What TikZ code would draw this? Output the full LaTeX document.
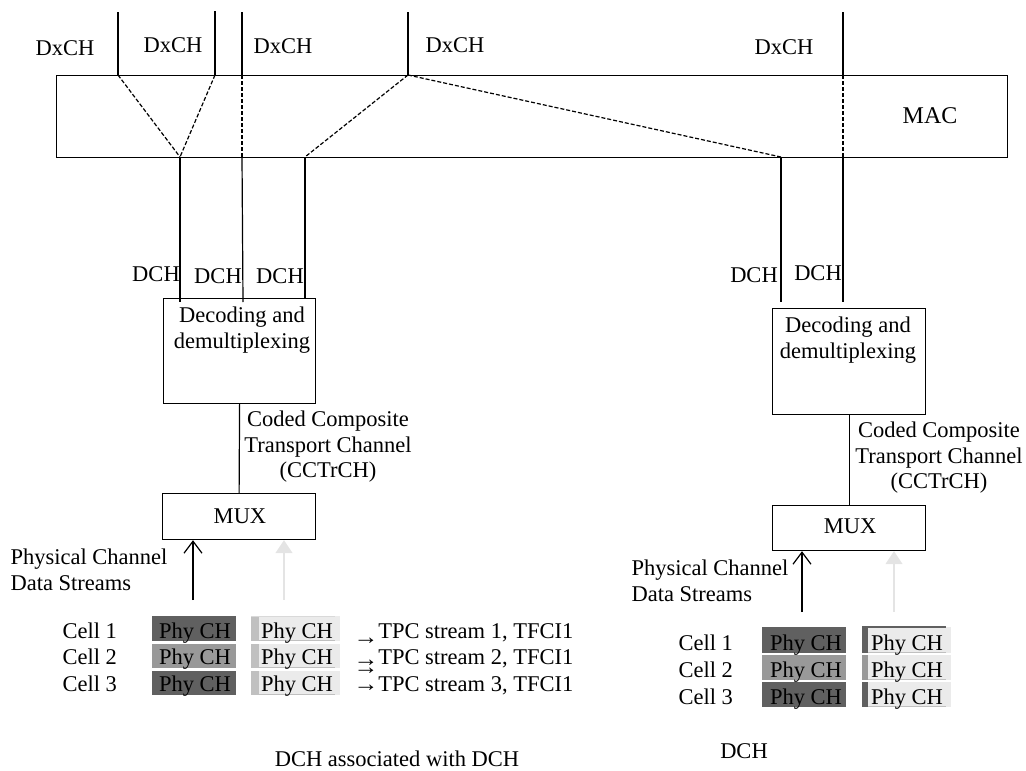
\documentclass[tikz,border=0pt]{standalone}
\usepackage{fontspec}
\setmainfont{Liberation Serif}
\usetikzlibrary{arrows.meta}
\definecolor{darkg}{HTML}{606060}
\definecolor{medg}{HTML}{999999}
\definecolor{lightg}{HTML}{EBEBEB}
\definecolor{stripg}{HTML}{C0C0C0}
\definecolor{arrg}{HTML}{E4E4E4}
\newcommand{\myarr}[1]{\smash{\raisebox{#1}{\scalebox{1.1}[1]{→}}}}
\begin{document}
\begin{tikzpicture}[x=1pt,y=-1pt,line width=1.2pt,
  lbl/.style={font=\fontsize{22.5}{25.5}\selectfont,inner sep=0pt},
  box/.style={draw,anchor=north west,inner sep=0pt},
  blk/.style={anchor=north west,inner sep=0pt,outer sep=0pt,line width=0pt},
  dsh/.style={dash pattern=on 4pt off 2pt},
  blackarr/.style={-{Straight Barb[length=12pt,width=18pt,line width=1.2pt]}},
  grayarr/.style={draw=arrg,-{Triangle[length=13pt,width=17pt]}}]
\useasboundingbox (0,0) rectangle (1026,771);

% MAC box
\node[box,minimum width=951pt,minimum height=82pt] (mac) at (56,75) {};
\node[lbl,font=\fontsize{24}{26}\selectfont] (mactxt) at (930,116) {MAC};

% DxCH labels
\node[lbl] (dx1) at (65,48) {DxCH};
\node[lbl] (dx2) at (173,45) {DxCH};
\node[lbl] (dx3) at (283,46) {DxCH};
\node[lbl] (dx4) at (455,45) {DxCH};
\node[lbl] (dx5) at (784,47) {DxCH};

% coordinates
\coordinate (t1) at (118,12);
\coordinate (t2) at (215,11);
\coordinate (t3) at (242,12);
\coordinate (t4) at (408,12);
\coordinate (t5) at (843,12);
\coordinate (m1) at (118,75);
\coordinate (m2) at (215,75);
\coordinate (m3) at (242,75);
\coordinate (m4) at (408,75);
\coordinate (m5) at (843,75);
\coordinate (b1) at (180,157);
\coordinate (b2) at (242,157);
\coordinate (b3) at (305,157);
\coordinate (b4) at (781,157);
\coordinate (b5) at (843,157);

\draw (t1) -- (m1);
\draw (t2) -- (m2);
\draw (t3) -- (m3);
\draw (t4) -- (m4);
\draw (t5) -- (m5);
\draw[dsh] (m1) -- (b1);
\draw[dsh] (m2) -- (b1);
\draw[dsh] (m3) -- (b2);
\draw[dsh] (m4) -- (b3);
\draw[dsh] (m4) -- (b4);
\draw[dsh] (m5) -- (b5);

% left decoding box
\node[box,minimum width=152pt,minimum height=105pt] (dec1) at (163,298) {};
\node[lbl,align=center] (dec1txt) at (242,330) {Decoding and\\demultiplexing};
\coordinate (e1) at (180,302);
\coordinate (e2) at (243,302);
\coordinate (e3) at (305,298);
\draw (b1) -- (e1);
\draw (b2) -- (e2);
\draw (b3) -- (e3);
\node[lbl] (dch1) at (156,274) {DCH};
\node[lbl] (dch2) at (218,276) {DCH};
\node[lbl] (dch3) at (280,276) {DCH};

% right decoding box
\node[box,minimum width=153pt,minimum height=106pt] (dec2) at (772,308) {};
\node[lbl,align=center] (dec2txt) at (848,340) {Decoding and\\demultiplexing};
\coordinate (e4) at (781,302);
\coordinate (e5) at (843,302);
\draw (b4) -- (e4);
\draw (b5) -- (e5);
\node[lbl] (dch4) at (754,275) {DCH};
\node[lbl] (dch5) at (818,273) {DCH};

% MUX boxes
\node[box,minimum width=153pt,minimum height=46pt] (mux1) at (162,493) {};
\node[lbl] (mux1txt) at (240,516) {MUX};
\node[box,minimum width=153pt,minimum height=45pt] (mux2) at (772,505) {};
\node[lbl] (mux2txt) at (850,526) {MUX};
\draw (dec1.south) -- (mux1.north);
\draw (dec2.south) -- (mux2.north);

% CCTrCH labels
\node[lbl,align=center] (cc1) at (328,447) {Coded Composite\\Transport Channel\\(CCTrCH)};
\node[lbl,align=center] (cc2) at (939,458) {Coded Composite\\Transport Channel\\(CCTrCH)};

% Physical channel data streams
\node[lbl,align=left,anchor=west] (pc1) at (10,570) {Physical Channel\\Data Streams};
\node[lbl,align=left,anchor=west] (pc2) at (631,581) {Physical Channel\\Data Streams};

\coordinate (s1) at (193,600);
\coordinate (s2) at (284,600);
\coordinate (s3) at (802,612);
\coordinate (s4) at (894,612);
\draw[blackarr] (s1) -- (s1 |- mux1.south);
\draw[grayarr] (s2) -- (s2 |- mux1.south);
\draw[blackarr] (s3) -- (s3 |- mux2.south);
\draw[grayarr] (s4) -- (s4 |- mux2.south);

% left Phy CH blocks
\foreach \i/\top/\h/\base/\col in {1/616/25/638/darkg,2/644/24/664/medg,3/671/24/691/darkg}{
  \node[blk,fill=\col,minimum width=84pt,minimum height=\h pt] (lp\i) at (152,\top) {};
  \node[blk,fill=lightg,minimum width=89pt,minimum height=\h pt] (lq\i) at (251,\top) {};
  \node[blk,fill=stripg,minimum width=8pt,minimum height=\h pt] (ls\i) at (251,\top) {};
  \draw[stripg,line width=1pt] (lq\i.south west) ++(8,-1) -- ++(76,0);
  \node[lbl,anchor=base] (lpt\i) at (195,\base) {Phy CH};
  \node[lbl,anchor=base] (lqt\i) at (297,\base) {Phy CH};
  \node[lbl,anchor=base west] (lc\i) at (62,\base) {Cell \i};
}
\draw[stripg!60,line width=1pt] (lq1.north west) -- ++(84,0);
\node[lbl,anchor=base west] (tpc1) at (353,638) {\myarr{-6pt}TPC stream 1, TFCI1};
\node[lbl,anchor=base west] (tpc2) at (353,664) {\rlap{\myarr{-10.5pt}}\myarr{-2pt}TPC stream 2, TFCI1};
\node[lbl,anchor=base west] (tpc3) at (353,691) {\myarr{0pt}TPC stream 3, TFCI1};

% right Phy CH blocks
\foreach \i/\top/\h/\base/\col in {1/627/26/650/darkg,2/655/25/677/medg,3/682/25/704/darkg}{
  \node[blk,fill=\col,minimum width=84pt,minimum height=\h pt] (rp\i) at (762,\top) {};
  \node[blk,fill=lightg,minimum width=89pt,minimum height=\h pt] (rq\i) at (862,\top) {};
  \node[blk,fill=\col,minimum width=6pt,minimum height=\h pt] (rs\i) at (862,\top) {};
  \draw[stripg,line width=1pt] (rq\i.south west) ++(6,-1) -- ++(78,0);
  \node[lbl,anchor=base] (rpt\i) at (806,\base) {Phy CH};
  \node[lbl,anchor=base] (rqt\i) at (907,\base) {Phy CH};
  \node[lbl,anchor=base west] (rc\i) at (678,\base) {Cell \i};
}
\draw[darkg,line width=1.5pt] (rq1.north west) -- ++(84,0);

% bottom captions
\node[lbl,anchor=base] (cap1) at (397,766) {DCH associated with DCH};
\node[lbl,anchor=base] (cap2) at (744,758) {DCH};
\end{tikzpicture}
\end{document}
